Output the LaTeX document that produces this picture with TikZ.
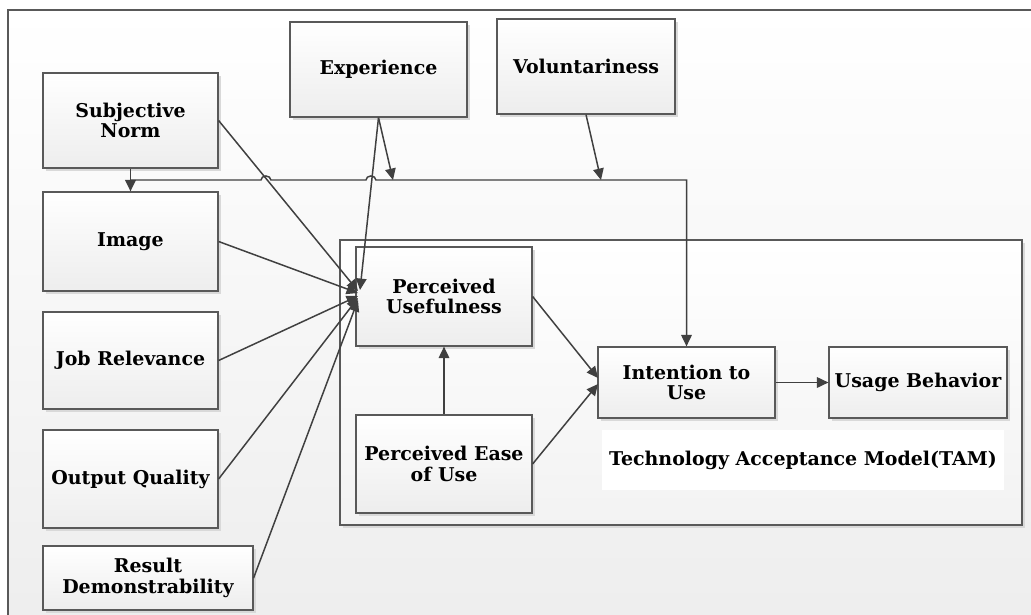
\documentclass[tikz,border=0pt]{standalone}
\usepackage{fontspec}
\setmainfont{DejaVu Serif}
\usetikzlibrary{arrows.meta,shadows}
\begin{document}
\begin{tikzpicture}[x=0.02cm,y=-0.02cm,
  box/.style={draw=black!65, line width=0.7pt, top color=white, bottom color=black!7,
    general shadow={fill=black!15, shadow xshift=1.6pt, shadow yshift=-1.6pt},
    align=center, font=\bfseries\fontsize{10.8}{11.6}\selectfont, inner sep=0pt},
  frame/.style={draw=black!65, line width=0.7pt},
  link/.style={draw=black!75, line width=0.85pt},
  arr/.style={link, -{Triangle[length=6.5pt,width=6pt]}},
  hop/.style={start angle=180, end angle=0, x radius=2.8pt, y radius=2.3pt},
]
\clip (0,0) rectangle (1031,615);
\useasboundingbox (0,0) rectangle (1031,615);
% background frame
\fill[white] (0,0) rectangle (1031,615);
\draw[frame, top color=white, bottom color=black!7] (8,10) rectangle (1045,640);
% TAM frame
\fill[black!15] (343,243) rectangle (1025,528);
\draw[frame, top color=white, bottom color=black!5] (340,240) rectangle (1022,525);

% nodes
\node[box, minimum width=3.5cm, minimum height=1.9cm] (sn) at (130.5,120.5) {Subjective\\Norm};
\node[box, minimum width=3.5cm, minimum height=1.98cm] (img) at (130.5,241.5) {Image};
\node[box, minimum width=3.5cm, minimum height=1.94cm] (jr) at (130.5,360.5) {Job Relevance};
\node[box, minimum width=3.5cm, minimum height=1.96cm] (oq) at (130.5,479) {Output Quality};
\node[box, minimum width=4.2cm, minimum height=1.28cm] (rd) at (148,578) {Result\\Demonstrability};
\node[box, minimum width=3.54cm, minimum height=1.9cm] (exp) at (378.5,69.5) {Experience};
\node[box, minimum width=3.56cm, minimum height=1.9cm] (vol) at (586,66.5) {Voluntariness};
\node[box, minimum width=3.52cm, minimum height=1.98cm] (pu) at (444,296.5) {Perceived\\Usefulness};
\node[box, minimum width=3.52cm, minimum height=1.96cm] (peou) at (444,464) {Perceived Ease\\of Use};
\node[box, minimum width=3.54cm, minimum height=1.42cm] (iu) at (686.5,382.5) {Intention to\\Use};
\node[box, minimum width=3.56cm, minimum height=1.42cm] (ub) at (918,382.5) {Usage Behavior};
\node[fill=white, minimum width=8.04cm, minimum height=1.2cm, inner sep=0pt,
  font=\bfseries\fontsize{10.8}{11.6}\selectfont] (tam) at (803,460) {Technology Acceptance Model(TAM)};

% coordinates
\coordinate (snj) at (130.5,180);
\coordinate (expj) at (393,180);
\coordinate (volj) at (601,180);
\coordinate (pua) at (358,291);
\coordinate (pue) at (360,290);
\coordinate (pub) at (358,293);
\coordinate (puc) at (358,296);
\coordinate (pud) at (358,298);
\coordinate (puf) at (358,300);
\coordinate (iua) at (598,378);
\coordinate (iub) at (598,384);

% connectors
\draw[link, line width=1.1pt] (sn.south) -- (snj);
\draw[arr, line width=1.1pt] (snj) -- (img.north);
\draw[arr] (snj) -- (261,180) arc[hop] -- (366,180) arc[hop] -- (iu.north |- snj) -- (iu.north);
\draw[arr] (exp.south) -- (expj);
\draw[arr] (vol.south) -- (volj);
\draw[arr] (sn.east) -- (pua);
\draw[arr] (exp.south) -- (pue);
\draw[arr] (img.east) -- (pub);
\draw[arr] (jr.east) -- (puc);
\draw[arr] (oq.east) -- (pud);
\draw[arr] (rd.east) -- (puf);
\draw[arr] (pu.east) -- (iua);
\draw[arr] (peou.east) -- (iub);
\draw[arr] (peou.north) -- (pu.south);
\draw[arr] (iu.east) -- (ub.west);
\end{tikzpicture}
\end{document}
